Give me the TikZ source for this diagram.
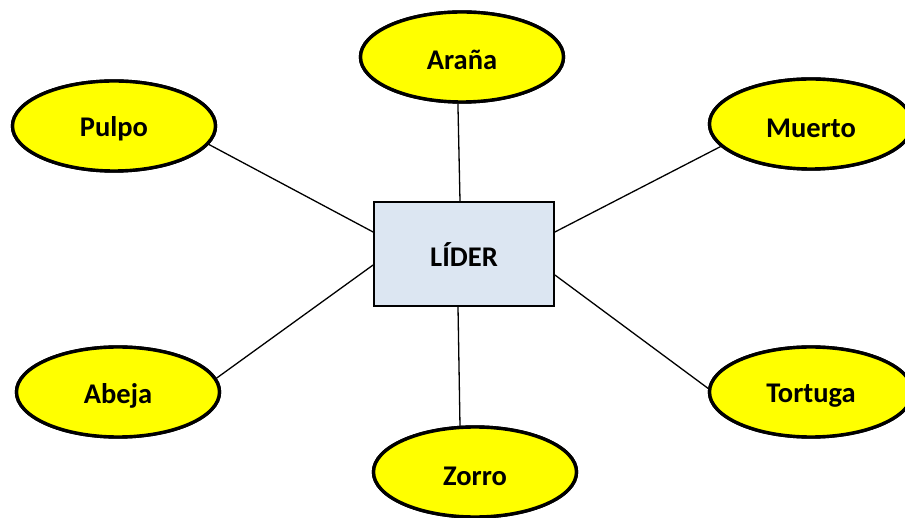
\documentclass[tikz,border=0pt]{standalone}
\usepackage{fontspec}
\setmainfont{Carlito}
\usetikzlibrary{shapes.geometric}
\definecolor{elyellow}{HTML}{FFFF00}
\definecolor{boxblue}{HTML}{DCE6F2}
\begin{document}
\begin{tikzpicture}[x=1pt,y=-1pt,
  animal/.style={ellipse, draw=black, line width=3.4pt, fill=elyellow,
    minimum width=203pt, minimum height=90pt, inner sep=0pt},
  leader/.style={rectangle, draw=black, line width=1.8pt, fill=boxblue,
    minimum width=180pt, minimum height=104pt, inner sep=0pt},
  label text/.style={inner sep=0pt, font=\fontsize{28.5}{34}\selectfont\bfseries},
  link/.style={draw=black, line width=1.3pt}]
\useasboundingbox (0,0) rectangle (905,518);
\begin{scope}
\clip (0,0) rectangle (905,518);
\node[leader] (lider) at (464,254) {};
\node[animal] (arana) at (462,57) {};
\node[animal] (pulpo) at (114,126) {};
\node[animal] (muerto) at (811,124) {};
\node[animal] (abeja) at (118,392) {};
\node[animal] (tortuga) at (811,392) {};
\node[animal] (zorro) at (475,472) {};
\draw[link] (arana.-95) -- ([xshift=-4pt]lider.north);
\draw[link] (pulpo.-11) -- ([yshift=22pt]lider.west);
\draw[link] (abeja.8) -- ([yshift=-11pt]lider.west);
\draw[link] (muerto.-166) -- ([yshift=22pt]lider.east);
\draw[link] (tortuga.178) -- ([yshift=-21pt]lider.east);
\draw[link] (zorro.108) -- ([xshift=-6pt]lider.south);
\node[leader] at (lider) {};
\node[animal] at (arana) {};
\node[animal] at (pulpo) {};
\node[animal] at (muerto) {};
\node[animal] at (abeja) {};
\node[animal] at (tortuga) {};
\node[animal] at (zorro) {};
\node[label text] (tlider) at ([yshift=-1pt]lider) {LÍDER};
\node[label text] (tarana) at ([yshift=-3pt]arana) {Araña};
\node[label text] (tpulpo) at ([yshift=-3pt]pulpo) {Pulpo};
\node[label text] (tmuerto) at ([yshift=-4pt]muerto) {Muerto};
\node[label text] (tabeja) at ([yshift=-4pt]abeja) {Abeja};
\node[label text] (ttortuga) at ([yshift=-4pt]tortuga) {Tortuga};
\node[label text] (tzorro) at ([yshift=-4pt]zorro) {Zorro};
\end{scope}
\end{tikzpicture}
\end{document}
